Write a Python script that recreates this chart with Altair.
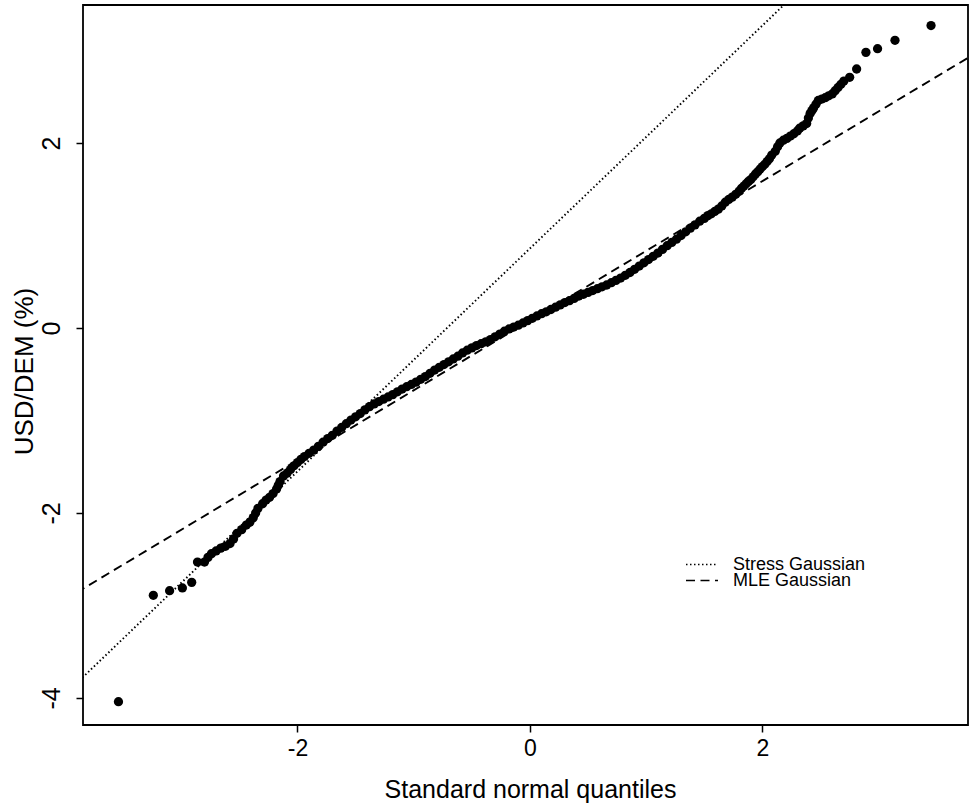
import altair as alt
import pandas as pd

qx = [-3.54, -3.24, -3.10, -2.99, -2.91, -2.86, -2.80, -2.77, -2.74, -2.70, -2.66, -2.62,
      -2.58, -2.55, -2.52, -2.48, -2.44, -2.41, -2.38, -2.36, -2.34, -2.30, -2.27, -2.24,
      -2.21, -2.18, -2.165, -2.15,
      -2.12, -2.09, -2.06, -2.03, -2.00, -1.97, -1.94, -1.90, -1.86, -1.82, -1.78, -1.74,
      -1.70, -1.66, -1.62, -1.58, -1.54, -1.50, -1.46, -1.42, -1.38, -1.34, -1.30, -1.26,
      -1.22, -1.18, -1.14, -1.10, -1.06, -1.02, -0.98, -0.94, -0.90, -0.86, -0.82, -0.78,
      -0.74, -0.70, -0.66, -0.62, -0.58, -0.54, -0.50, -0.46, -0.42, -0.38, -0.34, -0.30,
      -0.26, -0.22, -0.18, -0.14, -0.10, -0.06, -0.02, 0.02, 0.06, 0.10, 0.14, 0.18,
      0.22, 0.26, 0.30, 0.34, 0.38, 0.42, 0.46, 0.50, 0.54, 0.58, 0.62, 0.66,
      0.70, 0.74, 0.78, 0.82, 0.86, 0.90, 0.94, 0.98, 1.02, 1.06, 1.10, 1.14,
      1.18, 1.22, 1.26, 1.30, 1.34, 1.38, 1.42, 1.46, 1.50, 1.53, 1.56, 1.59,
      1.62, 1.65, 1.68, 1.71, 1.74, 1.77, 1.80, 1.82, 1.84, 1.86, 1.88, 1.90,
      1.92, 1.94, 1.96, 1.98, 2.00, 2.02,
      2.04, 2.06, 2.08, 2.11, 2.13, 2.15, 2.18, 2.21, 2.24, 2.27, 2.30, 2.32,
      2.35, 2.38, 2.395, 2.41, 2.425, 2.44, 2.46, 2.48, 2.51, 2.54, 2.57, 2.60,
      2.625, 2.65, 2.675, 2.70, 2.75, 2.81, 2.89, 2.99, 3.14, 3.45]
qy = [-4.04, -2.89, -2.84, -2.81, -2.75, -2.53, -2.53, -2.48, -2.44, -2.41, -2.38, -2.36,
      -2.33, -2.28, -2.22, -2.18, -2.13, -2.10, -2.05, -2.00, -1.95, -1.90, -1.86, -1.83,
      -1.79, -1.74, -1.70, -1.66,
      -1.60, -1.57, -1.53, -1.49, -1.455, -1.42, -1.39, -1.355, -1.32, -1.28, -1.235, -1.195,
      -1.16, -1.115, -1.075, -1.035, -0.995, -0.96, -0.925, -0.885, -0.85, -0.82, -0.795, -0.77,
      -0.745, -0.72, -0.69, -0.66, -0.635, -0.61, -0.585, -0.555, -0.525, -0.49, -0.455, -0.425,
      -0.395, -0.365, -0.335, -0.305, -0.27, -0.24, -0.215, -0.19, -0.17, -0.15, -0.125, -0.095,
      -0.065, -0.035, -0.01, 0.01, 0.03, 0.055, 0.08, 0.105, 0.13, 0.155, 0.175, 0.20,
      0.225, 0.25, 0.275, 0.295, 0.32, 0.345, 0.365, 0.385, 0.405, 0.425, 0.445, 0.465,
      0.49, 0.515, 0.54, 0.57, 0.60, 0.635, 0.67, 0.705, 0.74, 0.775, 0.81, 0.85,
      0.89, 0.925, 0.96, 1.00, 1.04, 1.08, 1.115, 1.155, 1.185, 1.215, 1.235, 1.26,
      1.285, 1.32, 1.36, 1.39, 1.415, 1.445, 1.48, 1.51, 1.535, 1.56, 1.585, 1.605,
      1.635, 1.665, 1.69, 1.72, 1.745, 1.77,
      1.80, 1.83, 1.87, 1.91, 1.96, 2.00, 2.03, 2.05, 2.075, 2.10, 2.13, 2.16,
      2.185, 2.21, 2.27, 2.32, 2.35, 2.38, 2.42, 2.46, 2.475, 2.49, 2.51, 2.53,
      2.565, 2.60, 2.635, 2.67, 2.71, 2.80, 2.98, 3.02, 3.11, 3.27]

# fitted reference lines (end points)
line_names = ["Stress Gaussian", "MLE Gaussian"]
line_x = [-3.9, 3.8]
stress_y = [-3.84, 5.44]
mle_y = [-2.86, 2.945]

x_ticks = [-2, 0, 2]
y_ticks = [-4, -2, 0, 2]
x_domain = [-3.845, 3.768]
y_domain = [-4.292, 3.492]

FONT = "Liberation Sans"

pts = pd.DataFrame({"q": qx, "r": qy})
lines_df = pd.DataFrame({
    "series": [line_names[0]] * 2 + [line_names[1]] * 2,
    "q": line_x + line_x,
    "r": stress_y + mle_y,
})

minus_expr = "datum.value < 0 ? '-' + toString(-datum.value) : toString(datum.value)"

x_enc = alt.X(
    "q:Q",
    scale=alt.Scale(domain=x_domain, nice=False, zero=False),
    axis=alt.Axis(
        values=x_ticks, title="Standard normal quantiles", labelExpr=minus_expr,
        titleFontSize=25, titleFont=FONT, titleFontWeight="normal", titleColor="black",
        titleX=447, titleY=72, titleAlign="center", titleBaseline="alphabetic",
        labelFontSize=23, labelFont=FONT, labelColor="black", labelPadding=5,
        labelBaseline="top", tickSize=7, tickWidth=1.5, tickColor="black",
        domain=False, grid=False,
    ),
)
y_enc = alt.Y(
    "r:Q",
    scale=alt.Scale(domain=y_domain, nice=False, zero=False),
    axis=alt.Axis(
        values=y_ticks, title="USD/DEM (%)", labelExpr=minus_expr,
        titleFontSize=26, titleFont=FONT, titleFontWeight="normal", titleColor="black",
        titleAngle=270, titleX=-51, titleY=366, titleAlign="center",
        titleBaseline="alphabetic",
        labelFontSize=25, labelFont=FONT, labelColor="black", labelAngle=270,
        labelAlign="center", labelBaseline="alphabetic", labelPadding=17,
        tickSize=7, tickWidth=1.5, tickColor="black", domain=False, grid=False,
    ),
)

points = alt.Chart(pts).mark_circle(size=86, color="black", opacity=1).encode(
    x=x_enc, y=y_enc
)

lines = alt.Chart(lines_df).mark_line(color="black", strokeWidth=1.9, clip=True).encode(
    x="q:Q",
    y="r:Q",
    strokeDash=alt.StrokeDash(
        "series:N",
        scale=alt.Scale(domain=line_names, range=[[1.5, 2.5], [9, 5.5]]),
        legend=alt.Legend(
            title=None, orient="none", legendX=602, legendY=553,
            labelFontSize=18, labelFont=FONT, labelColor="black",
            symbolType="stroke", symbolSize=1024, symbolStrokeWidth=1.6,
            symbolStrokeColor="black", labelOffset=14, rowPadding=-7,
            clipHeight=13, padding=0,
        ),
    ),
)

chart = (
    alt.layer(points, lines)
    .properties(
        width=885, height=720,
        autosize=alt.AutoSizeParams(type="none"),
        padding={"left": 83, "top": 5, "right": 5, "bottom": 79},
        background="white",
    )
    .configure(font=FONT)
    .configure_view(stroke="black", strokeWidth=1.8)
)

chart.save("out.html", embed_options={"renderer": "svg", "actions": False})
